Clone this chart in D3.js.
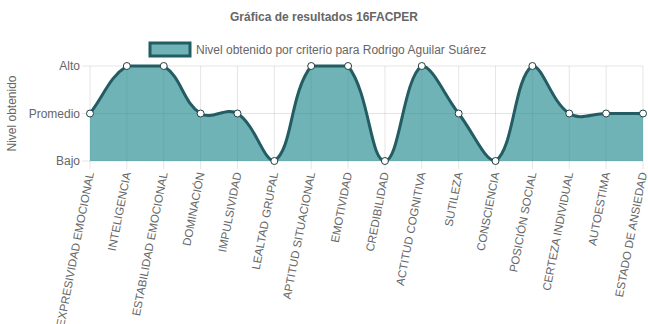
<!DOCTYPE html>
<html>
<head>
<meta charset="utf-8">
<script src="https://cdn.jsdelivr.net/npm/d3@7"></script>
<style>
  body { margin: 0; background: #fff; }
  text { font-family: "Liberation Sans", Arial, sans-serif; fill: #666; }
</style>
</head>
<body>
<script>
// criterios del 16FACPER
var categories = ["EXPRESIVIDAD EMOCIONAL", "INTELIGENCIA", "ESTABILIDAD EMOCIONAL", "DOMINACIÓN",
  "IMPULSIVIDAD", "LEALTAD GRUPAL", "APTITUD SITUACIONAL", "EMOTIVIDAD", "CREDIBILIDAD",
  "ACTITUD COGNITIVA", "SUTILEZA", "CONSCIENCIA", "POSICIÓN SOCIAL", "CERTEZA INDIVIDUAL",
  "AUTOESTIMA", "ESTADO DE ANSIEDAD"];
// 1 = Bajo, 2 = Promedio, 3 = Alto
var values = [2, 3, 3, 2, 2, 1, 3, 3, 1, 3, 2, 1, 3, 2, 2, 2];
var levelValues = [1, 2, 3];
var levelLabels = ["Bajo", "Promedio", "Alto"];

var width = 648, height = 324;
// plot area (don't use "top", it's window.top)
var plotL = 90, plotR = 643, plotT = 66, plotB = 161;

var svg = d3.select("body").append("svg")
  .attr("width", width)
  .attr("height", height);

var x = d3.scalePoint().domain(categories).range([plotL, plotR]);
var y = d3.scaleLinear().domain([1, 3]).range([plotB, plotT]);

// title
svg.append("text")
  .attr("x", 324).attr("y", 21)
  .attr("text-anchor", "middle")
  .style("font-size", "12px").style("font-weight", "bold")
  .text("Gráfica de resultados 16FACPER");

// legend
svg.append("rect")
  .attr("x", 150).attr("y", 43).attr("width", 40).attr("height", 13)
  .attr("fill", "rgba(34,138,143,0.65)")
  .attr("stroke", "#235c62").attr("stroke-width", 3);
svg.append("text")
  .attr("x", 196).attr("y", 54)
  .style("font-size", "12px")
  .text("Nivel obtenido por criterio para Rodrigo Aguilar Suárez");

// grid
var grid = svg.append("g");
grid.selectAll(".vg").data(categories).enter().append("line")
  .attr("x1", function(d) { return x(d); }).attr("x2", function(d) { return x(d); })
  .attr("y1", plotT).attr("y2", plotB + 8)
  .attr("stroke", "rgba(0,0,0,0.1)");
grid.selectAll(".hg").data(levelValues).enter().append("line")
  .attr("x1", plotL - 8).attr("x2", plotR)
  .attr("y1", function(d) { return y(d); }).attr("y2", function(d) { return y(d); })
  .attr("stroke", "rgba(0,0,0,0.1)");

// y labels
svg.selectAll(".yl").data(levelValues).enter().append("text")
  .attr("x", plotL - 10).attr("y", function(d) { return y(d) + 4; })
  .attr("text-anchor", "end")
  .style("font-size", "12px")
  .text(function(d, i) { return levelLabels[i]; });

svg.append("text")
  .attr("transform", "translate(16," + ((plotT + plotB) / 2) + ") rotate(-90)")
  .attr("text-anchor", "middle")
  .style("font-size", "12px")
  .text("Nivel obtenido");

// x labels
svg.selectAll(".xl").data(categories).enter().append("text")
  .attr("transform", function(d) { return "translate(" + (x(d) + 4) + "," + (plotB + 12) + ") rotate(-79)"; })
  .attr("text-anchor", "end")
  .style("font-size", "11.5px")
  .text(function(d) { return d; });

// spline like chart.js (tension 0.4)
var pts = values.map(function(v, i) { return { x: x(categories[i]), y: y(v) }; });
var tension = 0.4;
pts.forEach(function(p, i) {
  var prev = pts[i - 1] || p, next = pts[i + 1] || p;
  var d01 = Math.hypot(p.x - prev.x, p.y - prev.y),
      d12 = Math.hypot(next.x - p.x, next.y - p.y);
  var s01 = d01 / (d01 + d12) || 0, s12 = d12 / (d01 + d12) || 0;
  var fa = tension * s01, fb = tension * s12;
  p.cpPrev = { x: p.x - fa * (next.x - prev.x), y: p.y - fa * (next.y - prev.y) };
  p.cpNext = { x: p.x + fb * (next.x - prev.x), y: p.y + fb * (next.y - prev.y) };
  [p.cpPrev, p.cpNext].forEach(function(c) {
    c.y = Math.max(plotT, Math.min(plotB, c.y));
  });
});

function curve(ctx) {
  ctx.moveTo(pts[0].x, pts[0].y);
  for (var i = 1; i < pts.length; i++) {
    var a = pts[i - 1], b = pts[i];
    ctx.bezierCurveTo(a.cpNext.x, a.cpNext.y, b.cpPrev.x, b.cpPrev.y, b.x, b.y);
  }
  return ctx;
}

var area = curve(d3.path());
area.lineTo(pts[pts.length - 1].x, plotB);
area.lineTo(pts[0].x, plotB);
area.closePath();

svg.append("path")
  .attr("d", area.toString())
  .attr("fill", "rgba(34,138,143,0.65)");

svg.append("path")
  .attr("d", curve(d3.path()).toString())
  .attr("fill", "none")
  .attr("stroke", "#235c62")
  .attr("stroke-width", 3);

svg.selectAll(".pt").data(pts).enter().append("circle")
  .attr("cx", function(d) { return d.x; })
  .attr("cy", function(d) { return d.y; })
  .attr("r", 3.5)
  .attr("fill", "#fff")
  .attr("stroke", "#1f3f44")
  .attr("stroke-width", 1);
</script>
</body>
</html>
